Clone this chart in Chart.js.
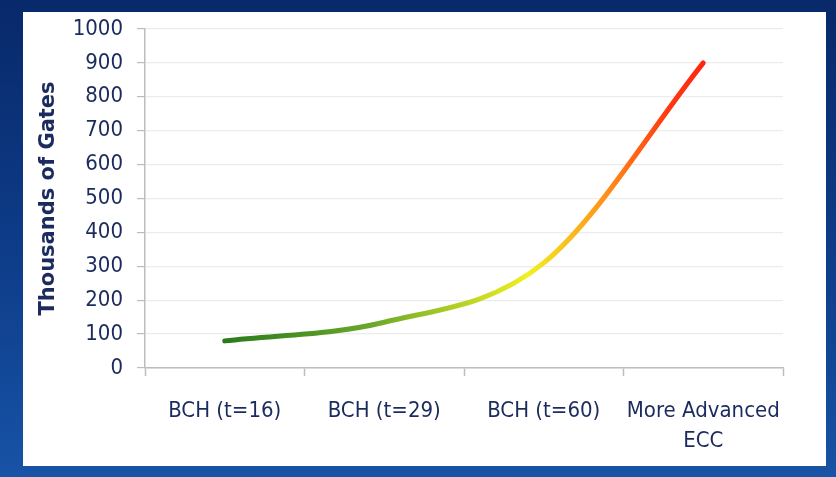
<!DOCTYPE html>
<html>
<head>
<meta charset="utf-8">
<script src="https://cdn.jsdelivr.net/npm/chart.js@4.4.0/dist/chart.umd.min.js"></script>
<style>
  html, body { margin: 0; padding: 0; }
  body {
    width: 836px; height: 477px; overflow: hidden;
    background: linear-gradient(180deg, #08296a 0%, #0e3d8a 55%, #1753a6 100%);
    position: relative;
  }
  #panel {
    position: absolute; left: 23px; top: 12px; width: 803px; height: 454px;
    background: #ffffff;
  }
  #chartWrap { position: absolute; left: 0; top: 0; width: 836px; height: 477px; }
</style>
</head>
<body>
<div id="panel"></div>
<div id="chartWrap"><canvas id="gatesChart" width="836" height="477"></canvas></div>
<script>
const categorias = ['BCH (t=16)', 'BCH (t=29)', 'BCH (t=60)', ['More Advanced', 'ECC']];
const miles_compuertas = [80, 135, 310, 900];
const ticks_y = [0, 100, 200, 300, 400, 500, 600, 700, 800, 900, 1000];

const colorTexto = '#1c2b5e';
const fuenteTicks = { family: 'DejaVu Sans Condensed', size: 22, lineHeight: 1.36 };

function gradienteLinea(context) {
    const chart = context.chart;
    const area = chart.chartArea;
    if (!area) return '#3a8a1e';
    const g = chart.ctx.createLinearGradient(area.left + 80, 0, area.left + 570, 0);
    g.addColorStop(0.0, '#2b7a1c');
    g.addColorStop(0.3, '#6aa82a');
    g.addColorStop(0.62, '#f2f020');
    g.addColorStop(0.78, '#ff8e1a');
    g.addColorStop(0.9, '#ff3a12');
    g.addColorStop(1.0, '#ff2010');
    return g;
}

const ctx = document.getElementById('gatesChart').getContext('2d');
new Chart(ctx, {
    type: 'line',
    data: {
        labels: categorias,
        datasets: [{
            data: miles_compuertas,
            borderColor: gradienteLinea,
            borderWidth: 5,
            borderCapStyle: 'round',
            pointRadius: 0,
            cubicInterpolationMode: 'monotone',
            fill: false
        }]
    },
    options: {
        responsive: false,
        animation: false,
        layout: { padding: { left: 30, right: 53, top: 27, bottom: 0 } },
        plugins: {
            legend: { display: false },
            tooltip: { enabled: false }
        },
        scales: {
            x: {
                type: 'category',
                offset: true,
                grid: {
                    offset: true,
                    drawOnChartArea: false,
                    tickLength: 8,
                    tickColor: '#bdbdbd',
                    tickWidth: 1.5
                },
                border: { color: '#bdbdbd', width: 1.5 },
                ticks: {
                    color: colorTexto,
                    font: fuenteTicks,
                    padding: 20,
                    maxRotation: 0,
                    autoSkip: false
                },
                afterFit: function (scale) { scale.height = 109; }
            },
            y: {
                min: 0,
                max: 1000,
                afterBuildTicks: function (scale) {
                    scale.ticks = ticks_y.map(v => ({ value: v }));
                },
                grid: {
                    color: '#ececec',
                    tickColor: '#bdbdbd',
                    tickLength: 8,
                    lineWidth: 1.2
                },
                border: { color: '#bdbdbd', width: 1.5 },
                ticks: {
                    color: colorTexto,
                    font: fuenteTicks,
                    padding: 14,
                    callback: function (v) { return String(v); }
                },
                title: {
                    display: true,
                    text: 'Thousands of Gates',
                    color: colorTexto,
                    font: { family: 'DejaVu Sans', size: 21, weight: 'bold' },
                    padding: { top: 6, bottom: 0 }
                },
                afterFit: function (scale) { scale.width = 115; }
            }
        }
    }
});
</script>
</body>
</html>
